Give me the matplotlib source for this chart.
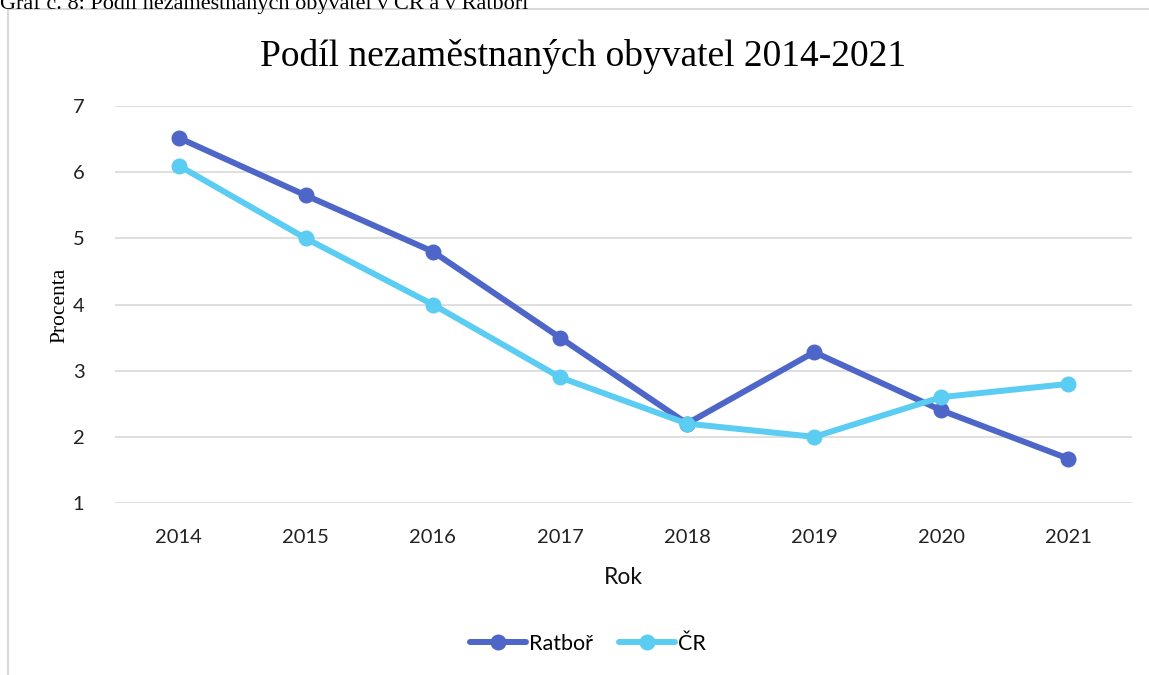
import matplotlib
matplotlib.use("Agg")
import matplotlib.pyplot as plt
from matplotlib.patches import Rectangle

years = ["2014", "2015", "2016", "2017", "2018", "2019", "2020", "2021"]
ratbor = [6.52, 5.65, 4.8, 3.5, 2.2, 3.28, 2.4, 1.67]
cr = [6.1, 5.0, 4.0, 2.9, 2.2, 2.0, 2.6, 2.8]
yticks = [1, 2, 3, 4, 5, 6, 7]

W, H = 1149, 675
fig = plt.figure(figsize=(W / 100, H / 100), dpi=100)

# outer chart border (light gray), cropped at right/bottom
fig.patches.append(Rectangle((8 / W, -0.1), 2.0, 1.1 - 9 / H, transform=fig.transFigure,
                             fill=False, edgecolor="#D9D9D9", linewidth=1.5))

# caption cut at the top (as in the reference)
fig.text(0 / W, 1 - 9 / H, "Graf č. 8: Podíl nezaměstnaných obyvatel v ČR a v Ratboři",
         fontfamily="Liberation Serif", fontsize=16, ha="left", va="baseline", color="black")

ax = fig.add_axes([115 / W, 1 - 503 / H, (1132 - 115) / W, (503 - 106) / H])
x = list(range(len(years)))
ax.plot(x, ratbor, color="#4D66C8", linewidth=4.3, marker="o", markersize=10.5,
        label="Ratboř", solid_capstyle="round", zorder=3)
ax.plot(x, cr, color="#5BCCF2", linewidth=4.3, marker="o", markersize=10.5,
        label="ČR", solid_capstyle="round", zorder=3)

ax.set_xlim(-0.5, len(years) - 0.5)
ax.set_ylim(1, 7)
ax.set_yticks(yticks)
ax.set_xticks(x)
ax.set_xticklabels(years)
ax.grid(axis="y", color="#D9D9D9", linewidth=1.2)
ax.set_axisbelow(True)
for s in ax.spines.values():
    s.set_visible(False)
ax.tick_params(length=0)
ax.tick_params(axis="y", pad=22)
ax.tick_params(axis="x", pad=19)
for lab in ax.get_xticklabels() + ax.get_yticklabels():
    lab.set_fontfamily("Lato")
    lab.set_fontsize(14.5)
    lab.set_color("#222222")

ax.set_xlabel("Rok", fontfamily="Lato", fontsize=16.5, color="#111111", labelpad=15)
fig.text(60 / W, 1 - 305 / H, "Procenta", rotation=90, fontfamily="Liberation Serif",
         fontsize=15.5, ha="center", va="center")

fig.text(583 / W, 1 - 57 / H, "Podíl nezaměstnaných obyvatel 2014-2021",
         fontfamily="Liberation Serif", fontsize=27, ha="center", va="center")

leg = fig.legend(loc="center", bbox_to_anchor=(588 / W, 1 - 644 / H), ncol=2, frameon=False,
                 prop={"family": "Lato", "size": 15.5}, handlelength=2.6, columnspacing=1.2,
                 handletextpad=0.15)

fig.savefig("out.png", dpi=100)
